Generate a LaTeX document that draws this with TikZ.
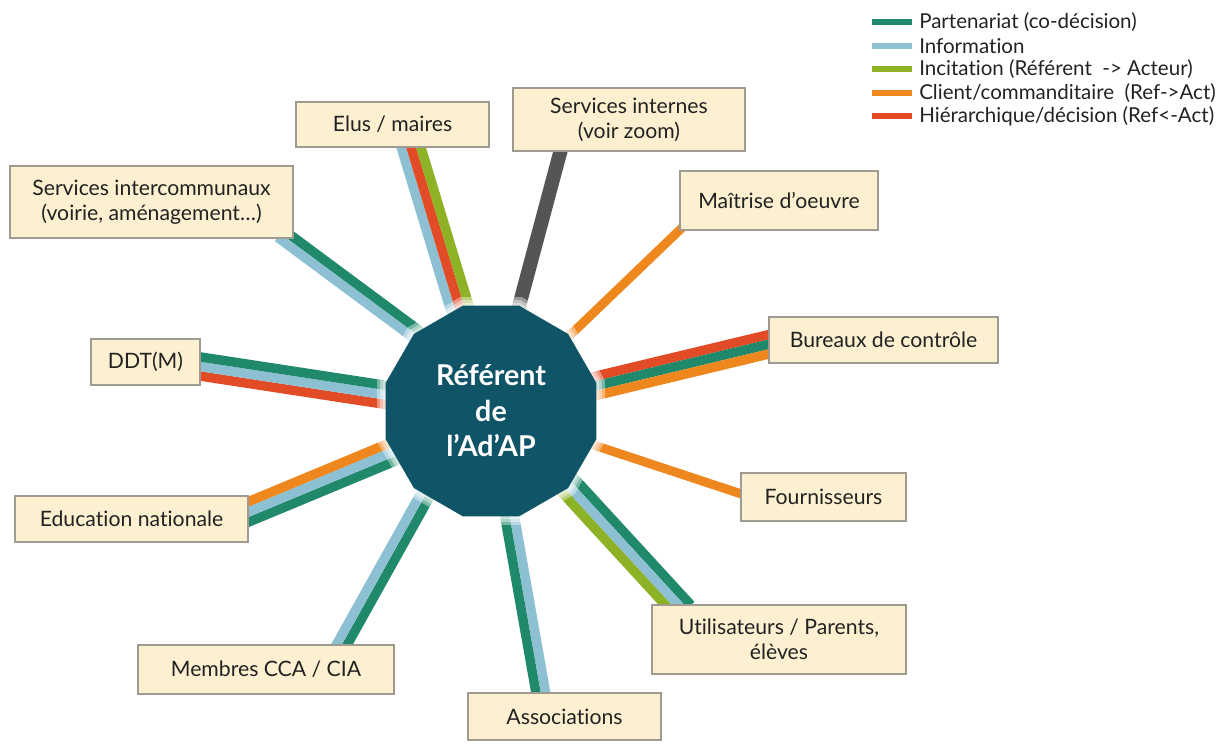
\documentclass[tikz,border=0pt]{standalone}
\usepackage{fontspec}
\setmainfont{Lato}[Ligatures={NoCommon}]
\usetikzlibrary{shapes.geometric,calc,backgrounds}
\definecolor{cGreen}{RGB}{32,137,107}
\definecolor{cBlue}{RGB}{142,192,212}
\definecolor{cLime}{RGB}{142,178,38}
\definecolor{cOrange}{RGB}{238,136,30}
\definecolor{cRed}{RGB}{225,75,38}
\definecolor{cGray}{RGB}{85,85,85}
\definecolor{cCore}{RGB}{16,84,104}
\definecolor{cBox}{RGB}{252,240,208}
\definecolor{cBorder}{RGB}{160,155,145}
\definecolor{cText}{RGB}{34,34,34}
\newcommand\bxfont{\fontsize{15.9}{18.75}\selectfont}
\newcommand\corefont{\fontsize{21.5}{26.6}\selectfont\bfseries}
\newcommand\lgfont{\fontsize{15.4}{17}\selectfont}
\newcommand\strp[4]{\draw[stripe,#1] ($(#3)!#2!90:(#4)$) -- ($(#4)!#2!-90:(#3)$);}
\begin{document}
\begin{tikzpicture}[x=0.75pt,y=-0.75pt,
  box/.style={draw=cBorder, line width=0.8pt, fill=cBox, text=cText, align=center, inner sep=0pt, font=\bxfont},
  sz/.style 2 args={minimum width=#1*0.75pt, minimum height=#2*0.75pt},
  stripe/.style={line width=7.1pt},
  dodec/.style={regular polygon, regular polygon sides=12, inner sep=0pt},
  glow/.style={dodec, fill=white, fill opacity=0.4},
  lg/.style={anchor=west, inner sep=0pt, font=\lgfont, text=cText},
  sw/.style={line width=4.5pt}]
\useasboundingbox (0,0) rectangle (1230,743);

% boxes
\node[box, sz={283}{72}] (ic) at (151.5,202) {Services intercommunaux\\(voirie, aménagement…)};
\node[box, sz={193}{45}] (elus) at (392.5,124.5) {Elus / maires};
\node[box, sz={232}{63}] (si) at (629,119.5) {Services internes\\(voir zoom)};
\node[box, sz={198}{59}] (mo) at (779,200.5) {Maîtrise d’oeuvre};
\node[box, sz={229}{46}] (bur) at (883.5,340) {Bureaux de contrôle};
\node[box, sz={165}{48}] (four) at (823.5,497) {Fournisseurs};
\node[box, sz={254}{69}] (util) at (779,639.5) {Utilisateurs / Parents,\\élèves};
\node[box, sz={193}{47}] (asso) at (564.5,716.5) {Associations};
\node[box, sz={256}{49}] (mem) at (266,669.5) {Membres CCA / CIA};
\node[box, sz={233}{46}] (edu) at (131.5,519) {Education nationale};
\node[box, sz={109}{46}] (ddt) at (145.5,362) {DDT(M)};

% soft halo and centre
\node[glow, minimum size=177pt] (glowA) at (491,411) {};
\node[glow, minimum size=172pt] (glowB) at (491,411) {};
\node[glow, minimum size=167.5pt] (glowC) at (491,411) {};
\node[dodec, minimum size=163.5pt, fill=cCore, text=white, align=center, font=\corefont] (ctr) at (491,411) {Référent\\de\\l’Ad’AP};

% connector end points
\coordinate (icS) at ($(ctr.center)+(-21,-37)$);
\coordinate (icE) at ($(ic.south east)+(-13,-5)$);
\coordinate (elE) at ($(elus.south)+(16.5,-7)$);
\coordinate (siE) at ($(si.south)+(-67,-6)$);
\coordinate (moE) at ($(mo.south west)+(8,-8)$);
\coordinate (buE) at ($(bur.west)+(10,2)$);
\coordinate (foE) at ($(four.west)+(10,0)$);
\coordinate (utS) at ($(ctr.center)+(41,35)$);
\coordinate (utE) at ($(util.north)+(-95,7)$);
\coordinate (asE) at ($(asso.north)+(-22.5,7)$);
\coordinate (meS) at ($(ctr.center)+(-40,38)$);
\coordinate (meE) at ($(mem.north)+(72,7)$);
\coordinate (edE) at ($(edu.east)+(-10,-3)$);
\coordinate (ddE) at ($(ddt.east)+(-10,3)$);

\begin{pgfonlayer}{background}
% Services intercommunaux
\strp{cBlue}{3.6pt}{icS}{icE}
\strp{cGreen}{-3.6pt}{icS}{icE}
% Elus
\strp{cBlue}{7.1pt}{ctr.center}{elE}
\strp{cRed}{0pt}{ctr.center}{elE}
\strp{cLime}{-7.1pt}{ctr.center}{elE}
% Services internes
\draw[cGray, line width=10.5pt] (ctr.center) -- (siE);
% Maitrise d'oeuvre
\draw[cOrange, line width=6.75pt] (ctr.center) -- (moE);
% Bureaux de controle
\strp{cRed}{7.1pt}{ctr.center}{buE}
\strp{cGreen}{0pt}{ctr.center}{buE}
\strp{cOrange}{-7.1pt}{ctr.center}{buE}
% Fournisseurs
\draw[cOrange, line width=6.75pt] (ctr.center) -- (foE);
% Utilisateurs
\strp{cGreen}{7.1pt}{utS}{utE}
\strp{cBlue}{0pt}{utS}{utE}
\strp{cLime}{-7.1pt}{utS}{utE}
% Associations
\strp{cBlue}{3.6pt}{ctr.center}{asE}
\strp{cGreen}{-3.6pt}{ctr.center}{asE}
% Membres
\strp{cGreen}{3.6pt}{meS}{meE}
\strp{cBlue}{-3.6pt}{meS}{meE}
% Education nationale
\strp{cGreen}{7.1pt}{ctr.center}{edE}
\strp{cBlue}{0pt}{ctr.center}{edE}
\strp{cOrange}{-7.1pt}{ctr.center}{edE}
% DDT(M)
\strp{cRed}{7.1pt}{ctr.center}{ddE}
\strp{cBlue}{0pt}{ctr.center}{ddE}
\strp{cGreen}{-7.1pt}{ctr.center}{ddE}
\end{pgfonlayer}

% legend
\node[lg] (lg1) at (919,22) {Partenariat (co-décision)};
\node[lg] (lg2) at (919,46) {Information};
\node[lg] (lg3) at (919,69) {Incitation (Référent \ -> Acteur)};
\node[lg] (lg4) at (919,93) {Client/commanditaire \ (Ref->Act)};
\node[lg] (lg5) at (919,116) {Hiérarchique/décision (Ref<-Act)};
\draw[sw, cGreen] ([xshift=-5pt]lg1.west) -- ++(-40,0);
\draw[sw, cBlue] ([xshift=-5pt]lg2.west) -- ++(-40,0);
\draw[sw, cLime] ([xshift=-5pt]lg3.west) -- ++(-40,0);
\draw[sw, cOrange] ([xshift=-5pt]lg4.west) -- ++(-40,0);
\draw[sw, cRed] ([xshift=-5pt]lg5.west) -- ++(-40,0);
\end{tikzpicture}
\end{document}
